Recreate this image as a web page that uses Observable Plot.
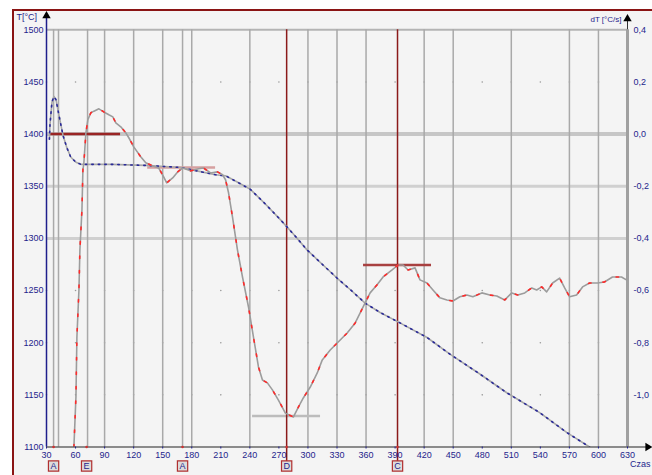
<!DOCTYPE html>
<html><head><meta charset="utf-8">
<script src="https://cdn.jsdelivr.net/npm/d3@7"></script>
<script src="https://cdn.jsdelivr.net/npm/@observablehq/plot@0.6"></script>
<style>
html,body{margin:0;padding:0;background:#fff;width:652px;height:475px;overflow:hidden;}
#panel{position:absolute;left:12px;top:9px;width:640px;height:466px;background:#f4f4f4;border-top:2px solid #8a1414;border-left:2px solid #8a1414;}
#chart{position:absolute;left:0;top:0;}
svg{overflow:hidden;}
</style></head><body>
<div id="panel"></div>
<div id="chart"></div>
<script>
// ---- data ----
const xTicks = [30,60,90,120,150,180,210,240,270,300,330,360,390,420,450,480,510,540,570,600,630];
const tTicks = [1100,1150,1200,1250,1300,1350,1400,1450,1500];
const dtTicks = [0.4,0.2,0.0,-0.2,-0.4,-0.6,-0.8,-1.0];
const dtTickLabels = ["0,4","0,2","0,0","-0,2","-0,4","-0,6","-0,8","-1,0"];

const tempTime = [33,33.6,34.6,35.7,37.7,39.8,42.9,47,51,55,60.4,65.5,96.4,132.5,168.5,189,204.5,215,227,240.6,256,271.5,287,299,315,330,343.6,359,374.5,395,423,446.6,477.5,505.3,539.3,567.1,590.8];
const tempValue = [1395,1409,1420,1431,1436,1433,1418,1399,1387,1378,1373,1371,1371,1370,1368,1364,1361,1360,1354,1347,1333,1318,1302,1289,1275,1262,1251,1238,1229,1219,1205,1189,1170,1152,1133,1114,1100];

const dtTime = [58.3,60.4,61.4,63.5,64.5,66.6,67.6,68.6,70.7,72.7,75.8,79,84.1,89.2,94.4,98.5,101.6,106.7,111.9,115,120.1,127.3,132.5,139.7,145.9,151,154.1,160.3,165.4,170.6,178.8,187.1,192.2,199.4,206.6,211.8,214.9,218,222.1,227.2,232.4,238.6,243.7,248.9,253,258.1,263.3,269.5,276.7,284.9,290.1,295.2,302.4,309.6,314.8,323,330.2,340.5,348.8,357,364.2,371.4,377.6,386.9,393.1,398.2,403.4,410.6,415.7,422.9,429.1,436.3,443.5,449.7,456.9,464.1,470.3,479.6,487.8,495,503.3,510.5,516.7,523.9,531.1,536.2,541.4,546.5,552.7,559.9,565.1,570.2,577.4,583.6,590.8,599,606.2,614.5,623.8,628.9];
const dtValue = [-1.20,-1.008,-0.778,-0.598,-0.444,-0.291,-0.137,-0.110,0.005,0.055,0.082,0.088,0.097,0.085,0.074,0.066,0.043,0.028,0.005,-0.014,-0.049,-0.087,-0.110,-0.122,-0.130,-0.164,-0.187,-0.168,-0.145,-0.130,-0.141,-0.133,-0.130,-0.149,-0.145,-0.156,-0.175,-0.225,-0.318,-0.444,-0.548,-0.663,-0.778,-0.893,-0.943,-0.954,-0.981,-1.020,-1.070,-1.085,-1.047,-1.012,-0.970,-0.916,-0.866,-0.828,-0.801,-0.763,-0.724,-0.663,-0.609,-0.578,-0.548,-0.521,-0.502,-0.502,-0.521,-0.513,-0.559,-0.571,-0.598,-0.628,-0.636,-0.640,-0.624,-0.617,-0.624,-0.609,-0.617,-0.621,-0.636,-0.609,-0.617,-0.609,-0.590,-0.598,-0.586,-0.605,-0.571,-0.552,-0.590,-0.624,-0.617,-0.586,-0.571,-0.571,-0.567,-0.548,-0.548,-0.559];

const gridX = [37.3,42.4,72.4,90,120,150,170.5,180,240,300,330,360,420,450,510,570,600];
const gridDotRows = [1450,1250,1200,1150];
const markerTime = [37.3,71.4,170.5,278,392.5];
const markerLabel = ["A","E","A","D","C"];
const eventLines = [278,392.5];
const levelStart = [34.2,134.5,242.8,357.4];
const levelEnd = [106.5,204.6,313,427.6];
const levelT = [1400,1367.9,1129.8,1274.5];
const levelColors = ["#9a2424","#d6a0a0","#bcbcbc","#a84040"];

// dT axis (right) is linear with T axis: 0.0 <-> 1400, 0.4 <-> 1500
const dtToT = d => 1400 + d * 250;

const temp = tempTime.map((t,i)=>({t, v: tempValue[i]}));
const deriv = dtTime.map((t,i)=>({t, v: dtToT(dtValue[i])}));
const levels = levelT.map((v,i)=>({x1: levelStart[i], x2: levelEnd[i], v, c: levelColors[i]}));
const markers = markerTime.map((t,i)=>({t, label: markerLabel[i]}));
const gridDots = xTicks.flatMap(x => gridDotRows.map(y => ({x,y})));
const dtTickT = dtTicks.map(dtToT);
const dtLabelMap = new Map(dtTickT.map((t,i)=>[t, dtTickLabels[i]]));

const navy = "#1e1e8c";
const chart = Plot.plot({
  width: 652, height: 475,
  marginLeft: 46, marginRight: 25, marginTop: 29.3, marginBottom: 28.5,
  style: {fontFamily: "Liberation Sans, Arial, sans-serif", fontSize: "9px", background: "transparent", overflow: "hidden"},
  x: {domain: [30, 630], axis: null},
  y: {domain: [1100, 1500], axis: null},
  marks: [
    // horizontal grid
    Plot.ruleY([1500], {stroke: "#b4b4b4", strokeWidth: 2}),
    Plot.ruleY([1400], {stroke: "#c6c6c6", strokeWidth: 4}),
    Plot.ruleY([1350, 1300], {stroke: "#d0d0d0", strokeWidth: 3}),
    Plot.dot(gridDots, {x: "x", y: "y", r: 0.8, fill: "#9a9a9a"}),
    // vertical grid
    Plot.ruleX(gridX, {stroke: "#a9a9a9", strokeWidth: 1.5}),
    Plot.ruleX([630], {stroke: "#a0a0a0", strokeWidth: 3}),
    // level segments
    Plot.ruleY(levels, {y: "v", x1: "x1", x2: "x2", stroke: "c", strokeWidth: 2.5}),
    // event lines
    Plot.ruleX(eventLines, {y1: 1100, y2: 1500, stroke: "#8b1a1a", strokeWidth: 1.5}),
    Plot.ruleX(eventLines, {y1: 1100, y2: 1084, stroke: "#8b1a1a", strokeWidth: 1.5}),
    // temperature curve
    Plot.line(temp, {x: "t", y: "v", stroke: "#a8a8a8", strokeWidth: 1.6, clip: true}),
    Plot.line(temp, {x: "t", y: "v", stroke: "#2a2a9a", strokeWidth: 1.6, strokeDasharray: "1.5 5", clip: true}),
    // derivative curve
    Plot.line(deriv, {x: "t", y: "v", stroke: "#9c9c9c", strokeWidth: 1.6, clip: true}),
    Plot.line(deriv, {x: "t", y: "v", stroke: "#ff2a2a", strokeWidth: 1.6, strokeDasharray: "2.5 12", clip: true}),
    // axes lines
    Plot.ruleX([30], {y1: 1100, y2: 1514, stroke: navy, strokeWidth: 1.5}),
    Plot.ruleX([630], {y1: 1500, y2: 1512, stroke: "#333", strokeWidth: 1}),
    Plot.ruleY([1100], {x1: 30, x2: 653, stroke: "#222", strokeWidth: 1.2}),
    Plot.dot([0], {x: () => 30, y: () => 1500, dy: -14, symbol: "triangle2", r: 4, fill: "#000"}),
    Plot.dot([0], {x: () => 630, y: () => 1500, dy: -11, symbol: "triangle2", r: 4, fill: "#000"}),
    Plot.dot([0], {x: () => 652, y: () => 1100, dx: -1, symbol: "triangle2", r: 4, fill: "#000", rotate: 90}),
    // ticks
    Plot.axisX(xTicks, {anchor: "bottom", tickSize: 2, tickPadding: 3, stroke: navy, fill: navy, tickFormat: d => String(d)}),
    Plot.axisY(tTicks, {anchor: "left", tickSize: 0, tickPadding: 3, fill: navy, tickFormat: d => String(d)}),
    Plot.axisY(dtTickT, {anchor: "right", tickSize: 0, tickPadding: 6, fill: navy, tickFormat: t => dtLabelMap.get(t)}),
    // markers below axis
    Plot.dot(markers, {x: "t", y: () => 1100, dy: 19, symbol: "square", r: 5.8, fill: "#dcdcdc", stroke: "#b03030", strokeWidth: 1.2}),
    Plot.text(markers, {x: "t", y: () => 1100, dy: 19, text: "label", fill: navy, fontSize: 9}),
    Plot.dot(markerTime, {x: d => d, y: () => 1100, r: 1.3, fill: "#d03030"}),
    // axis titles
    Plot.text(["T[°C]"], {frameAnchor: "top-left", dx: -30, dy: -16, textAnchor: "start", fill: navy, fontSize: 9}),
    Plot.text(["dT [°C/s]"], {frameAnchor: "top-right", dx: -6, dy: -13, textAnchor: "end", fill: navy, fontSize: 8}),
    Plot.text(["Czas"], {frameAnchor: "bottom-right", dx: 23, dy: 20, textAnchor: "end", fill: navy, fontSize: 9})
  ]
});
document.getElementById("chart").append(chart);
</script>
</body></html>
